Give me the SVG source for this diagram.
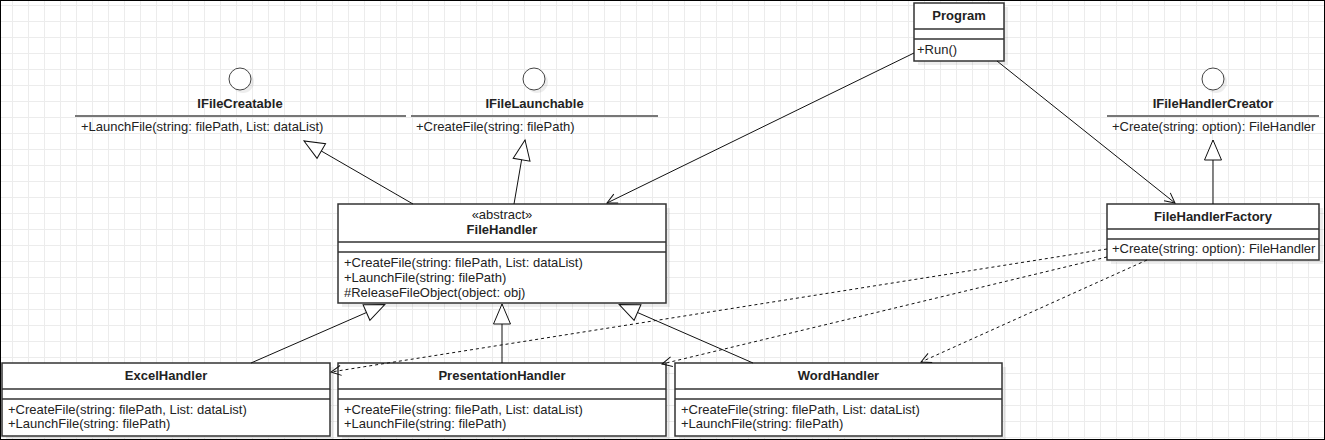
<svg xmlns="http://www.w3.org/2000/svg" width="1325" height="440" viewBox="0 0 1325 440">
<style>
.t{font-family:"Liberation Sans",Arial,sans-serif;font-size:13px;fill:#222}
.b{font-weight:bold}
.m{text-anchor:middle}
.box{fill:#fff;stroke:#333;stroke-width:1.5}
.sh{fill:#000;opacity:0.07}
.div{stroke:#333;stroke-width:1.5}
.il{stroke:#777;stroke-width:2}
.circ{fill:#fff;stroke:#444;stroke-width:1}
.edge{fill:none;stroke:#111;stroke-width:1}
.dash{stroke-dasharray:3 3}
</style>
<defs>
<pattern id="grid" x="12" y="5" width="16" height="16" patternUnits="userSpaceOnUse">
<path d="M0.5,0 V16 M0,0.5 H16" fill="none" stroke="#ececec" stroke-width="1"/>
</pattern>
<marker id="open" markerUnits="userSpaceOnUse" markerWidth="12" markerHeight="12" refX="10" refY="5" orient="auto" overflow="visible">
<path d="M0,0 L10,5 L0,10" fill="none" stroke="#111" stroke-width="1"/>
</marker>
<marker id="tri" markerUnits="userSpaceOnUse" markerWidth="22" markerHeight="19" refX="20" refY="8.5" orient="auto" overflow="visible">
<path d="M0,0 L20,8.5 L0,17 Z" fill="#fff" stroke="#111" stroke-width="1"/>
</marker>
</defs>
<rect x="0" y="0" width="1325" height="440" fill="#fff"/>
<rect x="0" y="0" width="1325" height="440" fill="url(#grid)"/>
<rect x="0.5" y="0.5" width="1324" height="439" fill="none" stroke="#000" stroke-width="1"/>

<g id="IFileCreatable">
<circle class="sh" cx="243" cy="82" r="11"/>
<circle class="circ" cx="240" cy="79" r="11"/>
<text class="t b m" x="240" y="108">IFileCreatable</text>
<line class="il" x1="75" y1="116" x2="406" y2="116"/>
<text class="t" x="81" y="131">+LaunchFile(string: filePath, List: dataList)</text>
</g>

<g id="IFileLaunchable">
<circle class="sh" cx="537" cy="82" r="11"/>
<circle class="circ" cx="534" cy="79" r="11"/>
<text class="t b m" x="534.5" y="108">IFileLaunchable</text>
<line class="il" x1="411" y1="116" x2="658" y2="116"/>
<text class="t" x="416" y="131">+CreateFile(string: filePath)</text>
</g>

<g id="IFileHandlerCreator">
<circle class="sh" cx="1216" cy="82" r="11"/>
<circle class="circ" cx="1213" cy="79" r="11"/>
<text class="t b m" x="1213" y="108">IFileHandlerCreator</text>
<line class="il" x1="1107" y1="116" x2="1319" y2="116"/>
<text class="t" x="1112" y="131">+Create(string: option): FileHandler</text>
</g>

<g id="Program">
<rect class="sh" x="918" y="7" width="90" height="58"/>
<rect class="box" x="914" y="3" width="90" height="58"/>
<line class="div" x1="914" y1="29" x2="1004" y2="29"/>
<line class="div" x1="914" y1="39" x2="1004" y2="39"/>
<text class="t b m" x="959" y="20">Program</text>
<text class="t" x="917" y="54">+Run()</text>
</g>

<g id="FileHandlerFactory">
<rect class="sh" x="1111" y="208" width="212" height="56"/>
<rect class="box" x="1107" y="204" width="212" height="56"/>
<line class="div" x1="1107" y1="229" x2="1319" y2="229"/>
<line class="div" x1="1107" y1="239" x2="1319" y2="239"/>
<text class="t b m" x="1213" y="221">FileHandlerFactory</text>
<text class="t" x="1112" y="253">+Create(string: option): FileHandler</text>
</g>

<g id="FileHandler">
<rect class="sh" x="342" y="208" width="328" height="99"/>
<rect class="box" x="338" y="204" width="328" height="99"/>
<line class="div" x1="338" y1="242" x2="666" y2="242"/>
<line class="div" x1="338" y1="252" x2="666" y2="252"/>
<text class="t m" x="502" y="219">«abstract»</text>
<text class="t b m" x="502" y="234">FileHandler</text>
<text class="t" x="344" y="267">+CreateFile(string: filePath, List: dataList)</text>
<text class="t" x="344" y="282">+LaunchFile(string: filePath)</text>
<text class="t" x="344" y="297">#ReleaseFileObject(object: obj)</text>
</g>

<g id="ExcelHandler">
<rect class="sh" x="6" y="367" width="328" height="73"/>
<rect class="box" x="2" y="363" width="328" height="73"/>
<line class="div" x1="2" y1="389" x2="330" y2="389"/>
<line class="div" x1="2" y1="399" x2="330" y2="399"/>
<text class="t b m" x="166" y="380">ExcelHandler</text>
<text class="t" x="8" y="414">+CreateFile(string: filePath, List: dataList)</text>
<text class="t" x="8" y="428">+LaunchFile(string: filePath)</text>
</g>

<g id="PresentationHandler">
<rect class="sh" x="342" y="367" width="328" height="73"/>
<rect class="box" x="338" y="363" width="328" height="73"/>
<line class="div" x1="338" y1="389" x2="666" y2="389"/>
<line class="div" x1="338" y1="399" x2="666" y2="399"/>
<text class="t b m" x="502" y="380">PresentationHandler</text>
<text class="t" x="344" y="414">+CreateFile(string: filePath, List: dataList)</text>
<text class="t" x="344" y="428">+LaunchFile(string: filePath)</text>
</g>

<g id="WordHandler">
<rect class="sh" x="679" y="367" width="327" height="73"/>
<rect class="box" x="675" y="363" width="327" height="73"/>
<line class="div" x1="675" y1="389" x2="1002" y2="389"/>
<line class="div" x1="675" y1="399" x2="1002" y2="399"/>
<text class="t b m" x="838.5" y="380">WordHandler</text>
<text class="t" x="681" y="414">+CreateFile(string: filePath, List: dataList)</text>
<text class="t" x="681" y="428">+LaunchFile(string: filePath)</text>
</g>

<g id="connectors">
<line class="edge" x1="413" y1="204" x2="304" y2="141" marker-end="url(#tri)"/>
<line class="edge" x1="514" y1="204" x2="525" y2="140" marker-end="url(#tri)"/>
<line class="edge" x1="1213" y1="204" x2="1213" y2="140" marker-end="url(#tri)"/>
<line class="edge" x1="251" y1="363" x2="384.8" y2="304.5" marker-end="url(#tri)"/>
<line class="edge" x1="502" y1="363" x2="502" y2="304" marker-end="url(#tri)"/>
<line class="edge" x1="753" y1="363" x2="619.2" y2="304.5" marker-end="url(#tri)"/>
<line class="edge" x1="914" y1="53" x2="607" y2="203" marker-end="url(#open)"/>
<line class="edge" x1="997" y1="61" x2="1175" y2="203" marker-end="url(#open)"/>
<line class="edge dash" x1="1107" y1="249" x2="331" y2="372" marker-end="url(#open)"/>
<line class="edge dash" x1="1107" y1="257" x2="662" y2="364" marker-end="url(#open)"/>
<line class="edge dash" x1="1147" y1="260" x2="921" y2="362" marker-end="url(#open)"/>
</g>
</svg>
